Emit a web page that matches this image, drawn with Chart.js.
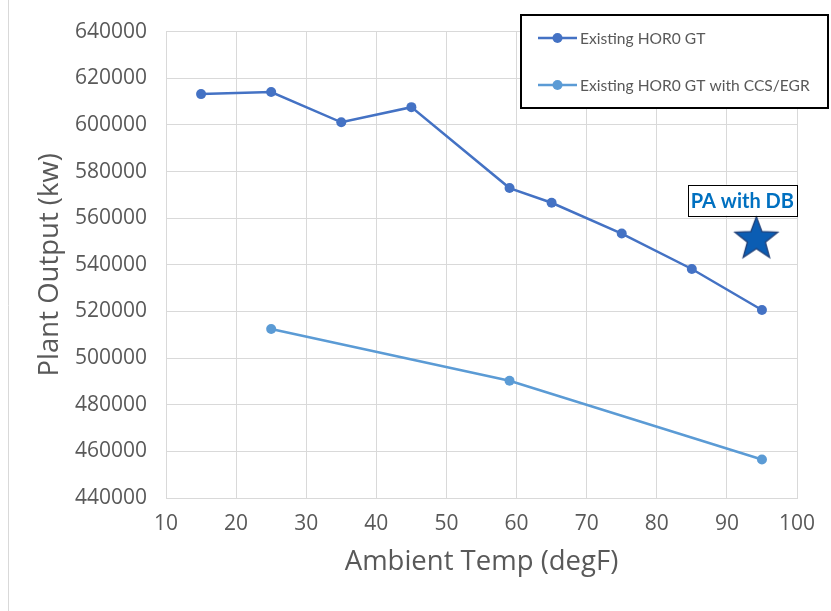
<!DOCTYPE html>
<html>
<head>
<meta charset="utf-8">
<script src="https://cdn.jsdelivr.net/npm/chart.js@4.4.1/dist/chart.umd.min.js"></script>
<style>
  html, body { margin: 0; padding: 0; background: #fff; }
  #wrap { width: 831px; height: 611px; }
</style>
</head>
<body>
<div id="wrap"><canvas id="myChart" width="831" height="611"></canvas></div>
<script>
// Dados do gráfico
const tempsExisting = [15, 25, 35, 45, 59, 65, 75, 85, 95];
const outputExisting = [613200, 614100, 601100, 607600, 572900, 566600, 553400, 538200, 520600];
const tempsCcs = [25, 59, 95];
const outputCcs = [512500, 490300, 456500];
const tempsPa = [94.2];
const outputPa = [551000];
const xTickValues = [10, 20, 30, 40, 50, 60, 70, 80, 90, 100];
const yTickValues = [440000, 460000, 480000, 500000, 520000, 540000, 560000, 580000, 600000, 620000, 640000];

const labelExisting = 'Existing HOR0 GT';
const labelCcs = 'Existing HOR0 GT with CCS/EGR';
const labelPa = 'PA with DB';

function pairs(xs, ys) {
    return xs.map((x, i) => ({ x: x, y: ys[i] }));
}

// estrela desenhada num canvas, usada como pointStyle
function makeStar(R) {
    const c = document.createElement('canvas');
    const size = Math.ceil(R * 2 + 4);
    c.width = size; c.height = size;
    const g = c.getContext('2d');
    const cx = size / 2, cy = size / 2, r = R * 0.42;
    g.beginPath();
    for (let i = 0; i < 10; i++) {
        const rad = i % 2 === 0 ? R : r;
        const a = -Math.PI / 2 + i * Math.PI / 5;
        const px = cx + rad * Math.cos(a), py = cy + rad * Math.sin(a);
        if (i === 0) g.moveTo(px, py); else g.lineTo(px, py);
    }
    g.closePath();
    g.fillStyle = '#0b5db3';
    g.fill();
    g.lineWidth = 1.3;
    g.strokeStyle = '#1f3f77';
    g.stroke();
    return c;
}
const star = makeStar(22.5);

const overlay = {
    id: 'overlay',
    afterDraw(chart) {
        const ctx = chart.ctx;
        ctx.save();
        // borda esquerda
        ctx.strokeStyle = '#d9d9d9';
        ctx.lineWidth = 1;
        ctx.beginPath(); ctx.moveTo(8.5, 0); ctx.lineTo(8.5, 611); ctx.stroke();

        // legenda
        ctx.fillStyle = '#fff';
        ctx.fillRect(521, 15, 307, 93);
        ctx.strokeStyle = '#000';
        ctx.lineWidth = 2;
        ctx.strokeRect(521, 15, 307, 93);
        const rows = [38, 85];
        [0, 1].forEach((di, k) => {
            const ds = chart.data.datasets[di];
            const y = rows[k];
            ctx.strokeStyle = ds.borderColor;
            ctx.lineWidth = 2.5;
            ctx.beginPath(); ctx.moveTo(538, y); ctx.lineTo(577, y); ctx.stroke();
            ctx.fillStyle = ds.backgroundColor;
            ctx.beginPath(); ctx.arc(557.5, y, 5, 0, Math.PI * 2); ctx.fill();
            ctx.fillStyle = '#595959';
            ctx.font = '15.6px Lato';
            ctx.textBaseline = 'middle';
            ctx.textAlign = 'left';
            ctx.fillText(ds.label, 580, y + 1);
        });

        // rótulo da estrela
        const pt = chart.getDatasetMeta(2).data[0];
        ctx.font = 'bold 20px Lato';
        const w = ctx.measureText(labelPa).width + 6;
        const bx = pt.x - 14 - w / 2, by = pt.y - 54.5, bh = 31;
        ctx.fillStyle = '#fff';
        ctx.fillRect(bx, by, w, bh);
        ctx.strokeStyle = '#000';
        ctx.lineWidth = 1;
        ctx.strokeRect(Math.round(bx) + 0.5, Math.round(by) + 0.5, Math.round(w), bh);
        ctx.fillStyle = '#0070c0';
        ctx.textAlign = 'center';
        ctx.textBaseline = 'middle';
        ctx.fillText(labelPa, pt.x - 14, by + bh / 2 + 1);
        ctx.restore();
    }
};

const ctx = document.getElementById('myChart').getContext('2d');
const myChart = new Chart(ctx, {
    type: 'scatter',
    data: {
        datasets: [{
            label: labelExisting,
            data: pairs(tempsExisting, outputExisting),
            showLine: true,
            borderColor: '#4472c4',
            backgroundColor: '#4472c4',
            borderWidth: 2.5,
            pointRadius: 5,
            pointBorderWidth: 0
        }, {
            label: labelCcs,
            data: pairs(tempsCcs, outputCcs),
            showLine: true,
            borderColor: '#5b9bd5',
            backgroundColor: '#5b9bd5',
            borderWidth: 2.5,
            pointRadius: 5,
            pointBorderWidth: 0
        }, {
            label: labelPa,
            data: pairs(tempsPa, outputPa),
            showLine: false,
            pointStyle: star,
            pointRadius: 23
        }]
    },
    options: {
        responsive: false,
        animation: false,
        events: [],
        layout: { padding: { left: 10, right: 34, top: 30, bottom: 0 } },
        plugins: {
            legend: { display: false },
            tooltip: { enabled: false }
        },
        scales: {
            x: {
                type: 'linear',
                min: 10,
                max: 100,
                afterBuildTicks: (s) => { s.ticks = xTickValues.map(v => ({ value: v })); },
                afterFit: (s) => { s.height = 113; },
                grid: { color: '#d9d9d9', drawTicks: false },
                border: { color: '#d9d9d9' },
                ticks: { color: '#595959', font: { family: 'Open Sans', size: 21 }, padding: 13, maxRotation: 0 },
                title: {
                    display: true,
                    text: 'Ambient Temp (degF)',
                    color: '#595959',
                    font: { family: 'Open Sans', size: 27.5 },
                    padding: { top: 0, bottom: 32 }
                }
            },
            y: {
                min: 440000,
                max: 640000,
                afterBuildTicks: (s) => { s.ticks = yTickValues.map(v => ({ value: v })); },
                afterFit: (s) => { s.width = 156; },
                grid: { color: '#d9d9d9', drawTicks: false },
                border: { color: '#d9d9d9' },
                ticks: { color: '#595959', font: { family: 'Open Sans', size: 21 }, padding: 19, callback: (v) => String(v) },
                title: {
                    display: true,
                    text: 'Plant Output (kw)',
                    color: '#595959',
                    font: { family: 'Open Sans', size: 27.5 },
                    padding: { top: 24, bottom: 0 }
                }
            }
        }
    },
    plugins: [overlay]
});
</script>
</body>
</html>
